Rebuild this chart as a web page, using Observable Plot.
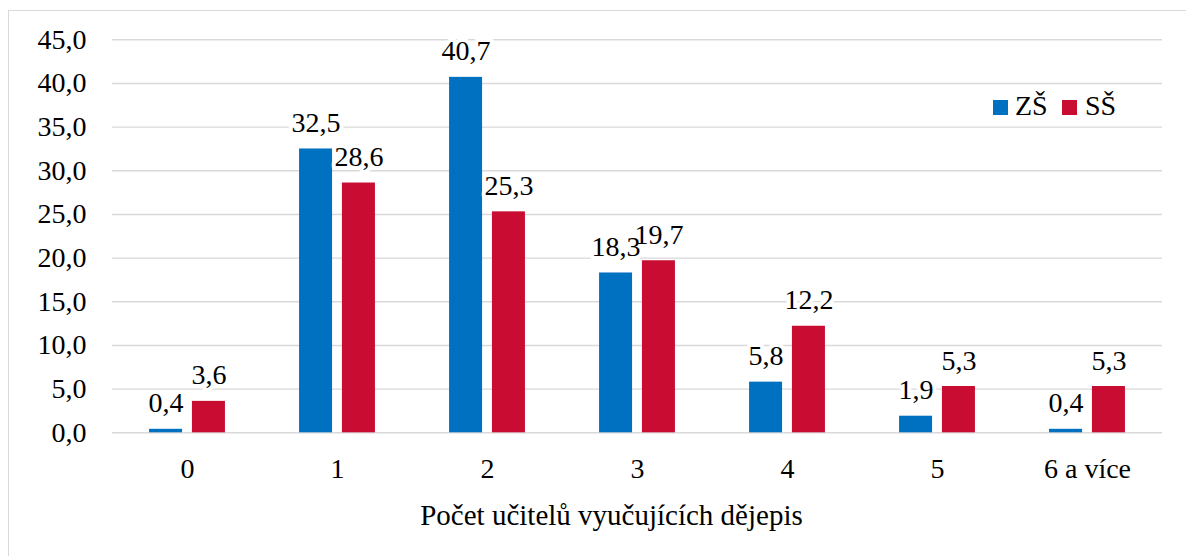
<!DOCTYPE html>
<html>
<head>
<meta charset="utf-8">
<script src="https://cdn.jsdelivr.net/npm/d3@7"></script>
<script src="https://cdn.jsdelivr.net/npm/@observablehq/plot@0.6"></script>
</head>
<body style="margin:0;padding:0;background:#fff;">
<div id="wrap" style="position:relative;width:1186px;height:556px;overflow:hidden;font-family:'Liberation Serif';">
  <div id="frame" style="position:absolute;left:8px;top:10px;width:1300px;height:700px;border:1.5px solid #d9d9d9;box-sizing:border-box;"></div>
  <div id="chart" style="position:absolute;left:0;top:0;"></div>
  <div id="title" style="position:absolute;left:0;width:1223px;text-align:center;top:501px;font-family:'Liberation Serif';font-size:29px;line-height:29px;color:#000;"></div>
  <div id="legend"></div>
</div>
<script>
const categories = ["0", "1", "2", "3", "4", "5", "6 a více"];
const series = ["ZŠ", "SŠ"];
const zsValues = [0.4, 32.5, 40.7, 18.3, 5.8, 1.9, 0.4];
const ssValues = [3.6, 28.6, 25.3, 19.7, 12.2, 5.3, 5.3];
const yTicks = [0, 5, 10, 15, 20, 25, 30, 35, 40, 45];
const colors = ["#0070C0", "#C80C32"];
const xTitle = "Počet učitelů vyučujících dějepis";

const data = [];
categories.forEach((c, i) => {
  data.push({cat: c, series: "ZŠ", value: zsValues[i]});
  data.push({cat: c, series: "SŠ", value: ssValues[i]});
});
const fmt = v => d3.format(".1f")(v).replace(".", ",");
const labelOpts = {fx: "cat", x: "series", y: "value", text: d => fmt(d.value), dy: -17, lineAnchor: "bottom"};

const chart = Plot.plot({
  width: 1186,
  height: 556,
  marginLeft: 111,
  marginRight: 23,
  marginTop: 39.3,
  marginBottom: 123.7,
  style: {fontFamily: "'Liberation Serif', serif", fontSize: "28px", background: "none", color: "#000"},
  fx: {domain: categories, padding: 0, label: null, tickSize: 0, tickPadding: 25, axis: "bottom"},
  x: {domain: series, paddingInner: 0.23, paddingOuter: 0.865, axis: null, round: false},
  y: {domain: [0, 45], ticks: yTicks, tickSize: 0, tickPadding: 26, tickFormat: fmt, label: null},
  color: {domain: series, range: colors},
  marks: [
    Plot.ruleY(yTicks, {stroke: "#d9d9d9", strokeWidth: 1.4}),
    Plot.barY(data, {fx: "cat", x: "series", y: "value", fill: "series"}),
    Plot.text(data, {...labelOpts, fill: "none", stroke: "white", strokeWidth: 8}),
    Plot.text(data, {...labelOpts, fill: "#000"})
  ]
});
document.getElementById("chart").appendChild(chart);
document.getElementById("title").textContent = xTitle;

const legend = document.getElementById("legend");
const lgPos = [{sw: 993, tx: 1015}, {sw: 1062, tx: 1085}];
series.forEach((s, i) => {
  const sw = document.createElement("div");
  sw.style.cssText = `position:absolute;width:15px;height:15px;left:${lgPos[i].sw}px;top:100px;background:${colors[i]};`;
  legend.appendChild(sw);
  const t = document.createElement("div");
  t.style.cssText = `position:absolute;left:${lgPos[i].tx}px;top:92px;font-family:'Liberation Serif';font-size:28px;line-height:28px;color:#000;white-space:nowrap;`;
  t.textContent = s;
  legend.appendChild(t);
});
</script>
</body>
</html>
